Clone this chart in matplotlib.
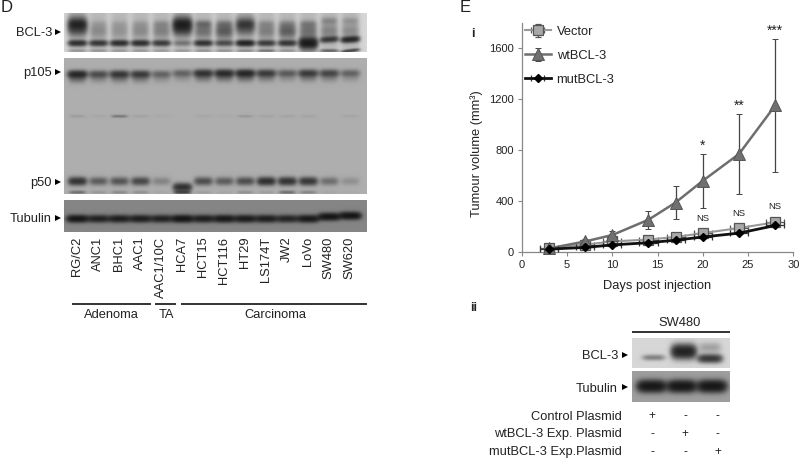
import numpy as np
import matplotlib
matplotlib.use("Agg")
import matplotlib.pyplot as plt

plt.rcParams['font.family'] = ['Liberation Sans', 'DejaVu Sans']
TXT = '#222222'

# ---------- growth curve data ----------
days = [3, 7, 10, 14, 17, 20, 24, 28]
vector = [35, 60, 85, 100, 120, 150, 190, 235]
vector_err = [10, 15, 20, 25, 25, 30, 35, 35]
wt = [30, 85, 135, 255, 390, 560, 770, 1150]
wt_err = [10, 20, 35, 70, 130, 210, 315, 520]
mut = [25, 38, 58, 75, 95, 120, 150, 210]
day_err = [1, 1, 1, 1, 1, 1, 1, 1]
ns_days = [20, 24, 28]
ns_heights = [265, 300, 355]
star_days = [20, 24, 28]
star_labels = ['*', '**', '***']
star_heights = [835, 1150, 1735]

# ---------- blot data: band strength per lane ----------
lanes = ['RG/C2', 'ANC1', 'BHC1', 'AAC1', 'AAC1/10C', 'HCA7', 'HCT15', 'HCT116',
         'HT29', 'LS174T', 'JW2', 'LoVo', 'SW480', 'SW620']
bcl3_smear = [1.6, .32, .25, .32, .4, 1.9, .55, .8, 1.1, .42, .75, .55, .38, .3]
bcl3_upper = [.5, .1, .1, .12, .2, .5, .45, .3, .4, .2, .2, .3, .32, .22]
bcl3_main = [1.6, 1.4, 1.6, 1.6, 1.3, .5, 1.5, 1.0, 2.0, 1.3, 1.4, 2.4, 1.3, 1.8]
bcl3_low = [.25, .25, .22, .22, .2, .2, .25, .25, .3, .5, .25, .2, .7, 1.1]
p105_band = [1.7, .9, 1.3, 1.2, .6, .6, 1.4, 1.6, 1.7, 1.2, .7, 1.2, 1.0, .6]
p105_faint = [.12, .05, .45, .08, .03, 0, .05, .03, .15, .07, .07, .07, 0, .06]
p50_band = [1.4, .7, .8, 1.0, .3, 1.5, .9, .7, .9, 1.5, 1.4, 1.3, .5, .2]
p50_low = [.5, .15, .25, .2, .05, .9, .1, .05, .2, .1, .5, .3, .05, .02]
tub_band = [1.9, 1.5, 1.6, 1.6, 1.5, 2.0, 1.6, 1.8, 1.7, 1.6, 1.4, 1.8, 2.0, 2.0]
ii_lanes = ['Control', 'wtBCL-3', 'mutBCL-3']
ii_bcl3 = [.55, 2.2, 1.5]
ii_tub = [2.2, 2.2, 2.2]
ctrl_marks = ['+', '-', '-']
wt_marks = ['-', '+', '-']
mut_marks = ['-', '-', '+']

W, H = 799, 459
fig = plt.figure(figsize=(W / 100, H / 100), dpi=100, facecolor='white')
ov = fig.add_axes([0, 0, 1, 1])
ov.set_xlim(0, W)
ov.set_ylim(H, 0)
ov.axis('off')


class Blot:
    def __init__(self, x0, x1, y0, y1, bg, floor=0.05):
        self.ext = (x0, x1, y1, y0)
        self.x = np.arange(x0, x1, 0.5)
        self.y = np.arange(y0, y1, 0.5)
        self.X, self.Y = np.meshgrid(self.x, self.y)
        self.d = np.zeros_like(self.X)
        self.bg, self.floor = bg, floor

    def band(self, cx, cy, w, sy, s, tilt=0):
        yy = cy + tilt * (self.X - cx)
        self.d += s * np.exp(-((self.X - cx) / w) ** 4) * np.exp(-((self.Y - yy) / sy) ** 2)

    def draw(self):
        img = self.floor + (self.bg - self.floor) * np.exp(-self.d)
        ov.imshow(img, extent=self.ext, cmap='gray', vmin=0, vmax=1, aspect='auto',
                  interpolation='bilinear', zorder=1)


lane_x = np.linspace(77.3, 350, len(lanes))

# BCL-3 panel
b = Blot(64, 367, 13.5, 52, 0.84)
for i, cx in enumerate(lane_x):
    shift = -3 if i >= 12 else 0
    b.d += 0.16 * np.exp(-((b.X - cx) / 9.5) ** 4)
    b.band(cx, 26 + (0 if bcl3_smear[i] > 1 else 5), 9.5 if bcl3_smear[i] > 1 else 8.5,
           8 if bcl3_smear[i] > 1 else 7, bcl3_smear[i])
    b.band(cx, 24 + shift, 8, 3.5, bcl3_upper[i])
    b.band(cx, 43 + shift * 1.2, 9, 2.8 if i != 11 else 5, bcl3_main[i], -0.06 if i >= 12 else 0)
    b.band(cx, 50.5, 9, 1.5, bcl3_low[i], -0.12 if i == 13 else 0)
b.draw()

# p105 / p50 panel
b = Blot(64, 367, 58, 194, 0.68)
for i, cx in enumerate(lane_x):
    dy = -2 if i >= 5 else 0
    b.band(cx, 74 + dy * .5, 9.5, 3.5, p105_band[i])
    b.band(cx, 79 + dy * .5, 8.5, 4, p105_band[i] * .25)
    b.band(cx, 116, 8, 1.3, p105_faint[i])
    b.band(cx, 181 + (6 if i == 5 else 0), 9, 3.8, p50_band[i])
    b.band(cx, 192, 8, 1.6, p50_low[i])
b.draw()

# Tubulin panel
b = Blot(64, 367, 200, 232, 0.52, 0.02)
for i, cx in enumerate(lane_x):
    b.band(cx, 218.5 - (3 if i == 13 else 2 if i == 12 else 0), 10.5, 3.4, tub_band[i])
b.draw()

# panel ii blots
ii_x = np.linspace(651.7, 710, 3)
b = Blot(632.3, 730, 337.7, 367.7, 0.84)
b.band(ii_x[0] + 2, 357, 11, 2.8, ii_bcl3[0])
b.band(ii_x[1] + 3, 351, 12, 6.5, ii_bcl3[1])
b.band(ii_x[2], 358, 12, 4, ii_bcl3[2])
b.band(ii_x[2], 347, 11, 5, .3)
b.draw()
b = Blot(632.3, 730, 371.7, 402.3, 0.62, 0.03)
for cx, s in zip(ii_x + [0, 1, 2], ii_tub):
    b.band(cx, 386.7, 14, 5.5, s)
b.draw()


def txt(x, y, s, size=9.3, ha='center', va='center', **kw):
    ov.text(x, y, s, fontsize=size, ha=ha, va=va, color=kw.pop('color', TXT), zorder=5, **kw)


def arrow(x, y):
    ov.plot([x], [y], marker='>', ms=4.5, color='black', mew=0, zorder=5)


# panel letters
txt(1, 8, 'D', size=12, ha='left')
txt(460, 8, 'E', size=12, ha='left')
txt(473, 34, 'i', ha='center', fontweight='bold')
txt(474, 308, 'ii', ha='center', fontweight='bold')

# row labels
for y, s in zip([33, 73, 183, 219], ['BCL-3', 'p105', 'p50', 'Tubulin']):
    txt(52, y, s, ha='right')
    arrow(58, y - 1)

# lane labels
for cx, s in zip(lane_x, lanes):
    txt(cx - 0.5 if s != 'JW2' else cx, 236.5, s, rotation=90, va='top')

# group brackets
for x0, x1, s in [(72, 151, 'Adenoma'), (155, 175.6, 'TA'), (180.7, 367, 'Carcinoma')]:
    ov.plot([x0, x1], [304, 304], color='#111111', lw=1.2, solid_capstyle='butt', zorder=4)
for cx, s in [(111, 'Adenoma'), (166, 'TA'), (275, 'Carcinoma')]:
    txt(cx, 314.5, s)

# panel ii text
txt(680, 323, 'SW480')
ov.plot([632.3, 730], [331.7, 331.7], color='#111111', lw=1.2, solid_capstyle='butt', zorder=4)
txt(618, 356, 'BCL-3', ha='right')
arrow(625, 355)
txt(618, 388.5, 'Tubulin', ha='right')
arrow(625, 387)
rows = [('Control Plasmid', 416.5, ctrl_marks), ('wtBCL-3 Exp. Plasmid', 434.5, wt_marks),
        ('mutBCL-3 Exp.Plasmid', 452, mut_marks)]
for s, y, marks in rows:
    txt(622, y, s, ha='right')
    for mx, m in zip([652, 685, 717.5], marks):
        txt(mx, y, m, size=8.5)

# ---------- growth curve ----------
ax = fig.add_axes([521.7 / W, 1 - 252.3 / H, (793.3 - 521.7) / W, (252.3 - 22.5) / H])
ax.patch.set_alpha(0)
ax.set_xlim(0, 30)
ax.set_ylim(0, 1800)
for sp in ['top', 'right']:
    ax.spines[sp].set_visible(False)
for sp in ['left', 'bottom']:
    ax.spines[sp].set_color('#888888')
    ax.spines[sp].set_linewidth(0.9)
ax.set_xticks(range(0, 31, 5))
ax.set_yticks(range(0, 1601, 400))
ax.tick_params(colors='#888888', labelcolor=TXT, labelsize=8, length=3, width=0.8, pad=2.5)

ax.errorbar(days, vector, xerr=day_err, yerr=vector_err, color='#999999', ecolor='#555555',
            elinewidth=0.9, capsize=2.5, capthick=0.9, lw=1.5, marker='s', ms=7.5,
            mfc='#A8A8A8', mec='#555555', mew=0.9, label='Vector', zorder=3, clip_on=False)
ax.errorbar(days, wt, yerr=wt_err, color='#6E6E6E', ecolor='#444444', elinewidth=0.9,
            capsize=2.5, capthick=0.9, lw=1.8, marker='^', ms=8, mfc='#707070',
            mec='#555555', mew=0.7, label='wtBCL-3', zorder=4, clip_on=False)
ax.errorbar(days, mut, xerr=day_err, color='#111111', ecolor='#333333', elinewidth=0.9,
            capsize=2.5, capthick=0.9, lw=2.0, marker='D', ms=4.2, mfc='black', mec='black',
            label='mutBCL-3', zorder=5, clip_on=False)

for d, h in zip(ns_days, ns_heights):
    ax.text(d, h, 'NS', ha='center', va='center', fontsize=6.8, color=TXT)
for d, s, h in zip(star_days, star_labels, star_heights):
    ax.text(d, h, s, ha='center', va='center', fontsize=10, color=TXT)

ax.legend(loc='upper left', bbox_to_anchor=(0.012, 0.985), frameon=False, fontsize=9.3,
          handlelength=2.0, handletextpad=0.45, labelspacing=0.92, borderpad=0.0,
          borderaxespad=0, labelcolor=TXT, numpoints=1)

txt(657.5, 286, 'Days post injection')
txt(476.5, 154, 'Tumour volume (mm³)', rotation=90)

fig.savefig('out.png', dpi=100)
